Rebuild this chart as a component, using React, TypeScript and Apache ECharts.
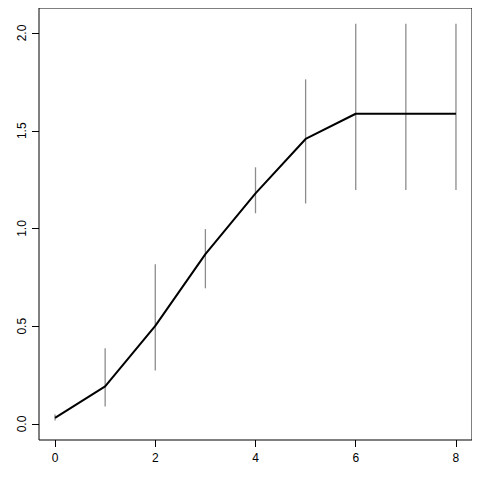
import React, { useEffect, useRef } from "react";
import * as echarts from "echarts";

const xValues = [0, 1, 2, 3, 4, 5, 6, 7, 8];
const meanValues = [0.031, 0.192, 0.502, 0.869, 1.18, 1.458, 1.587, 1.587, 1.587];
const lowerValues = [0.018, 0.09, 0.273, 0.694, 1.078, 1.128, 1.197, 1.197, 1.197];
const upperValues = [0.048, 0.388, 0.817, 0.997, 1.313, 1.763, 2.048, 2.048, 2.048];
const xTicks = [0, 2, 4, 6, 8];
const yTicks = [0, 0.5, 1, 1.5, 2];
const xName = "k";
const yName = "mean";

export default function App() {
  const ref = useRef<HTMLDivElement>(null);
  useEffect(() => {
    if (!ref.current) return;
    const chart = echarts.init(ref.current, null, { renderer: "svg" });
    const font = "Liberation Sans, Arial, Helvetica, sans-serif";
    chart.setOption({
      animation: false,
      backgroundColor: "#ffffff",
      grid: {
        left: 39,
        top: 8,
        right: 8,
        bottom: 40,
        show: true,
        borderColor: "#000000",
        borderWidth: 1,
        containLabel: false,
        outerBoundsMode: "none",
      },
      xAxis: {
        type: "value",
        min: -0.32,
        max: 8.32,
        name: xName,
        nameLocation: "middle",
        nameGap: 44,
        nameTextStyle: { fontFamily: font, fontSize: 12, color: "#000" },
        axisLine: { show: false, onZero: false },
        splitLine: { show: false },
        axisTick: {
          show: true,
          length: 7,
          inside: false,
          customValues: xTicks,
          lineStyle: { color: "#000", width: 1 },
        },
        axisLabel: {
          customValues: xTicks,
          margin: 12,
          fontFamily: font,
          fontSize: 12,
          color: "#000",
          formatter: (v: number) => String(v),
        },
      },
      yAxis: {
        type: "value",
        min: -0.082,
        max: 2.128,
        name: yName,
        nameLocation: "middle",
        nameGap: 41,
        nameRotate: 90,
        nameTextStyle: { fontFamily: font, fontSize: 12, color: "#000" },
        axisLine: { show: false, onZero: false },
        splitLine: { show: false },
        axisTick: {
          show: true,
          length: 7,
          inside: false,
          customValues: yTicks,
          lineStyle: { color: "#000", width: 1 },
        },
        axisLabel: {
          customValues: yTicks,
          rotate: 90,
          margin: 11,
          fontFamily: font,
          fontSize: 12,
          color: "#000",
          formatter: (v: number) => v.toFixed(1),
        },
      },
      series: [
        {
          type: "custom",
          renderItem: (params: any, api: any) => {
            const x = api.value(0);
            const lo = api.coord([x, api.value(1)]);
            const hi = api.coord([x, api.value(2)]);
            return {
              type: "line",
              shape: { x1: lo[0], y1: lo[1], x2: hi[0], y2: hi[1] },
              style: { stroke: "#8c8c8c", lineWidth: 1.3 },
            };
          },
          data: xValues.map((x, i) => [x, lowerValues[i], upperValues[i]]),
          z: 1,
        },
        {
          type: "line",
          data: xValues.map((x, i) => [x, meanValues[i]]),
          showSymbol: false,
          symbol: "none",
          lineStyle: { color: "#000", width: 2 },
          z: 2,
        },
      ],
    });
    return () => chart.dispose();
  }, []);
  return <div ref={ref} style={{ width: 480, height: 480, margin: -8 }} />;
}
